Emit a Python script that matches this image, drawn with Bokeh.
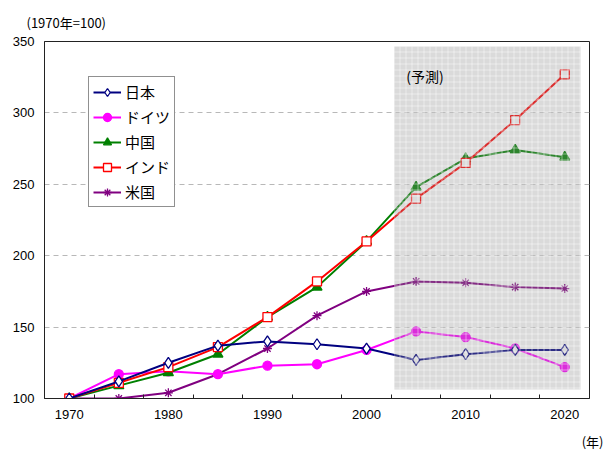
from bokeh.plotting import figure
from bokeh.models import (FixedTicker, Range1d, Legend, LegendItem, Label, Title)
from bokeh.embed import file_html
from bokeh.resources import INLINE

# Real GDP index of major economies (1970 = 100), five-year steps
years = [1970, 1975, 1980, 1985, 1990, 1995, 2000, 2005, 2010, 2015, 2020]
japan = [100, 112, 125, 137, 140, 138, 135, 127, 131, 134, 134]
germany = [100, 117, 119, 117, 123, 124, 134, 147, 143, 135, 122]
china = [100, 109, 118, 131, 157, 178, 210, 248, 268, 274, 269]
india = [100, 111, 122, 136, 157, 182, 210, 240, 265, 295, 327]
usa = [100, 100, 104, 117, 135, 158, 175, 182, 181, 178, 177]

series_names = ["日本", "ドイツ", "中国", "インド", "米国"]
y_ticks = [100, 150, 200, 250, 300, 350]
x_label_years = [1970, 1980, 1990, 2000, 2010, 2020]

JP_FONT = "Noto Sans CJK JP"
NUM_FONT = "Liberation Sans"

p = figure(width=605, height=450, output_backend="svg", toolbar_location=None,
           frame_width=545, frame_height=357,
           min_border_left=44, min_border_right=16,
           min_border_top=40, min_border_bottom=0,
           x_range=Range1d(1967.5, 2022.5), y_range=Range1d(100, 350))
p.background_fill_color = "white"
p.border_fill_color = "white"
p.outline_line_color = "#222222"
p.outline_line_width = 1

# unit caption above the frame
p.add_layout(Title(text="(1970年=100)", align="left", offset=-18,
                   text_font=JP_FONT, text_font_size="13px",
                   text_font_style="normal", text_color="black",
                   standoff=20, vertical_align="bottom"), "above")

# y axis
p.yaxis.ticker = FixedTicker(ticks=y_ticks)
p.yaxis.major_tick_in = 0
p.yaxis.major_tick_out = 0
p.yaxis.minor_tick_in = 0
p.yaxis.minor_tick_out = 0
p.yaxis.axis_line_color = "#222222"
p.yaxis.major_label_standoff = 10
p.yaxis.major_label_text_font = NUM_FONT
p.yaxis.major_label_text_font_size = "13px"
p.yaxis.major_label_text_color = "black"

# x axis: labels every ten years, tick marks between categories
boundaries = [y + 2.5 for y in years[:-1]]
p.xaxis.ticker = FixedTicker(ticks=x_label_years, minor_ticks=boundaries)
p.xaxis.major_tick_in = 0
p.xaxis.major_tick_out = 0
p.xaxis.minor_tick_in = 4
p.xaxis.minor_tick_out = 0
p.xaxis.minor_tick_line_color = "#222222"
p.xaxis.axis_line_color = "#222222"
p.xaxis.major_label_standoff = 11
p.xaxis.major_label_text_font = NUM_FONT
p.xaxis.major_label_text_font_size = "13px"
p.xaxis.major_label_text_color = "black"

# unit caption for the year axis
p.add_layout(Title(text="(年)", align="right", offset=-14,
                   text_font=JP_FONT, text_font_size="13px",
                   text_font_style="normal", text_color="black",
                   standoff=17), "below")

p.xgrid.visible = False
p.ygrid.ticker = FixedTicker(ticks=[150, 200, 250, 300])
p.ygrid.grid_line_color = "#b8b8b8"
p.ygrid.grid_line_dash = "5 4"
p.ygrid.grid_line_width = 1

styles = [
    (japan, "#000080", "diamond", "white", 11),
    (germany, "#ff00ff", "circle", "#ff00ff", 9),
    (china, "#008000", "triangle", "#008000", 10),
    (india, "#ff0000", "square", "white", 9),
    (usa, "#800080", "asterisk", "#800080", 9),
]

items = {}
draw_order = [4, 1, 2, 3, 0]
for i in draw_order:
    vals, col, marker, fill, size = styles[i]
    ln = p.line(years, vals, line_color=col, line_width=2)
    sc = p.scatter(years, vals, marker=marker, size=size, line_color=col,
                   fill_color=fill, line_width=1.3)
    items[i] = LegendItem(label=series_names[i], renderers=[ln, sc])

# forecast period shading, laid over the lines
forecast_left, forecast_right = 2002.8, 2021.6
forecast_bottom, forecast_top = 106.3, 346.5
p.quad(left=[forecast_left], right=[forecast_right],
       bottom=[forecast_bottom], top=[forecast_top],
       fill_color="#8c8c8c", fill_alpha=0.32, line_color=None,
       hatch_pattern="+", hatch_color="white", hatch_alpha=0.45,
       hatch_scale=6, hatch_weight=1)

p.add_layout(Label(x=2004.0, y=326, text="(予測)", text_font=JP_FONT,
                   text_font_size="14px", text_color="black",
                   text_baseline="middle"))

legend = Legend(items=[items[i] for i in range(5)], location=(44, 191))
legend.label_text_font = JP_FONT
legend.label_text_font_size = "15px"
legend.label_text_color = "black"
legend.border_line_color = "#222222"
legend.border_line_width = 1
legend.background_fill_color = "white"
legend.background_fill_alpha = 1
legend.glyph_width = 28
legend.glyph_height = 20
legend.label_height = 20
legend.label_standoff = 4
legend.spacing = 4
legend.padding = 4
legend.margin = 0
p.add_layout(legend)

open("out.html", "w").write(file_html(p, INLINE))
